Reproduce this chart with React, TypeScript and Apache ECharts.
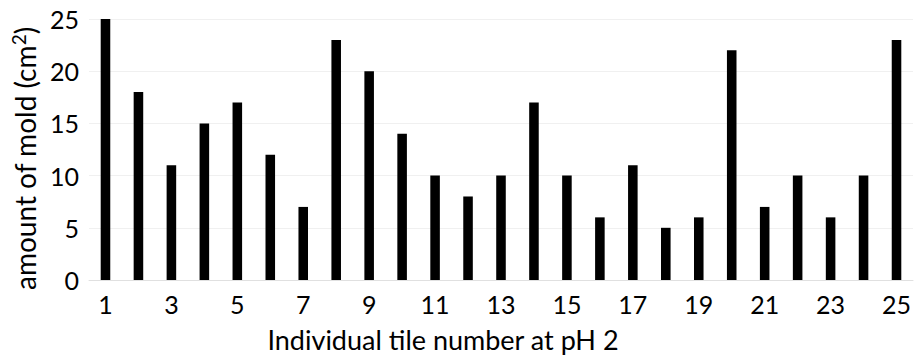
import React, { useEffect, useRef } from "react";
import * as echarts from "echarts";

const categories = [
  "1", "2", "3", "4", "5", "6", "7", "8", "9", "10", "11", "12", "13",
  "14", "15", "16", "17", "18", "19", "20", "21", "22", "23", "24", "25",
];
const moldValues = [25, 18, 11, 15, 17, 12, 7, 23, 20, 14, 10, 8, 10, 17, 10, 6, 11, 5, 6, 22, 7, 10, 6, 10, 23];
const xAxisTitle = "Individual tile number at pH 2";
const yAxisTitle = "amount of mold (cm{sup|2})";

export default function App() {
  const ref = useRef<HTMLDivElement>(null);
  useEffect(() => {
    if (!ref.current) return;
    const chart = echarts.init(ref.current, null, { renderer: "svg" });
    const font = "Lato, 'Open Sans', sans-serif";
    chart.setOption({
      animation: false,
      backgroundColor: "#ffffff",
      grid: { left: 89, right: 0, top: 19, bottom: 74, containLabel: false },
      xAxis: {
        type: "category",
        data: categories,
        axisLine: { show: true, lineStyle: { color: "#e0e0e0", width: 1 } },
        axisTick: { show: false },
        axisLabel: {
          interval: 1,
          color: "#000",
          fontFamily: font,
          fontSize: 25,
          margin: 11,
        },
        name: xAxisTitle,
        nameLocation: "middle",
        nameGap: 46,
        nameTextStyle: {
          color: "#000",
          fontFamily: font,
          fontSize: 27,
          padding: [0, 116, 0, 0],
        },
      },
      yAxis: {
        type: "value",
        min: 0,
        max: 25,
        interval: 5,
        axisLine: { show: false },
        axisTick: { show: false },
        splitLine: { lineStyle: { color: "#f0f0f0", width: 1 } },
        axisLabel: {
          color: "#000",
          fontFamily: font,
          fontSize: 25,
          margin: 10,
        },
        name: yAxisTitle,
        nameLocation: "middle",
        nameGap: 46,
        nameRotate: 90,
        nameTextStyle: {
          color: "#000",
          fontFamily: font,
          fontSize: 28,
          padding: [0, 18, 0, 0],
          rich: {
            sup: {
              fontFamily: font,
              fontSize: 19,
              color: "#000",
              padding: [0, 0, 13, 0],
            },
          },
        },
      },
      series: [
        {
          type: "bar",
          data: moldValues,
          barWidth: "29%",
          itemStyle: { color: "#000000" },
        },
      ],
    });
    return () => chart.dispose();
  }, []);
  return (
    <div
      ref={ref}
      style={{ position: "absolute", left: 0, top: 0, width: 914, height: 358 }}
    />
  );
}
